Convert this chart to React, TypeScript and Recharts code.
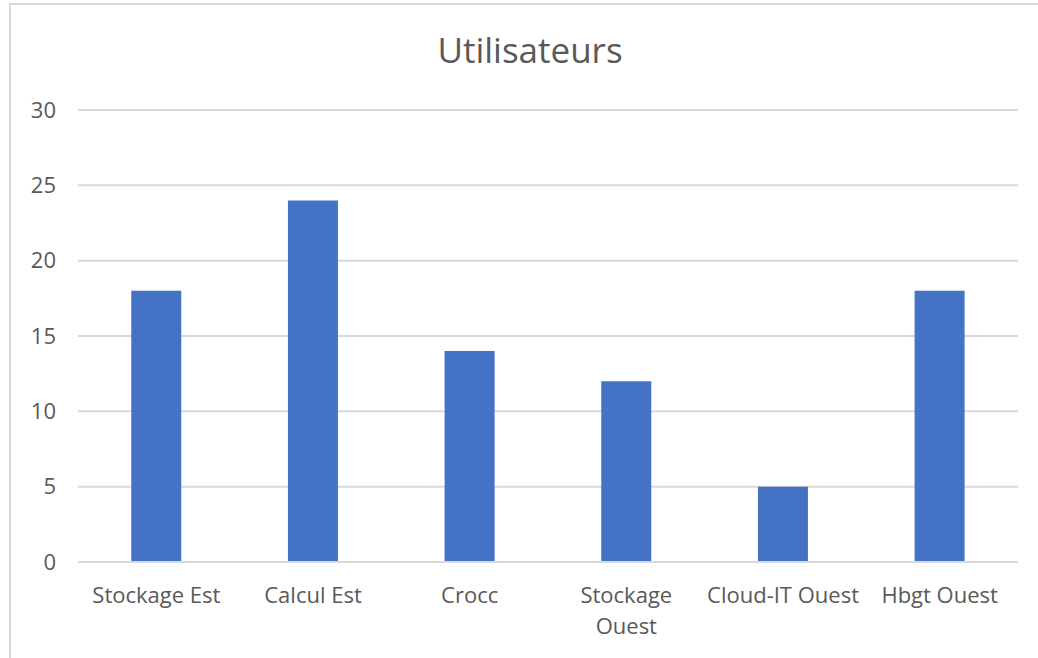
import { BarChart, Bar, XAxis, YAxis, CartesianGrid } from "recharts";

const categories = [
  "Stockage Est",
  "Calcul Est",
  "Crocc",
  "Stockage Ouest",
  "Cloud-IT Ouest",
  "Hbgt Ouest",
];
const users = [18, 24, 14, 12, 5, 18];
const yTicks = [0, 5, 10, 15, 20, 25, 30];

const data = categories.map((name, i) => ({ name, users: users[i] }));

const FONT = "'Open Sans', sans-serif";
const GREY = "#595959";

let ctx: CanvasRenderingContext2D | null = null;
function measure(s: string) {
  if (!ctx) ctx = document.createElement("canvas").getContext("2d");
  if (!ctx) return s.length * 11;
  ctx.font = `22px ${FONT}`;
  return ctx.measureText(s).width;
}

// category labels wrap like Excel when wider than the slot
function wrap(label: string, max: number) {
  const words = label.split(" ");
  const lines: string[] = [];
  let cur = "";
  for (const w of words) {
    const next = cur ? cur + " " + w : w;
    if (cur && measure(next) > max) {
      lines.push(cur);
      cur = w;
    } else cur = next;
  }
  if (cur) lines.push(cur);
  return lines;
}

function CategoryTick(props: any) {
  const { x, y, payload } = props;
  const lines = wrap(String(payload.value), 156);
  return (
    <text x={x} y={y} textAnchor="middle" fill={GREY} fontSize={22} fontFamily={FONT}>
      {lines.map((l, i) => (
        <tspan key={i} x={x} dy={i === 0 ? 16 : 31}>
          {l}
        </tspan>
      ))}
    </text>
  );
}

export default function App() {
  return (
    <div style={{ position: "absolute", left: 0, top: 0, width: 1038, height: 658, background: "#fff", overflow: "hidden" }}>
      {/* chart frame */}
      <div
        style={{
          position: "absolute",
          left: 9,
          top: 3,
          width: 1060,
          height: 680,
          border: "2px solid #d9d9d9",
        }}
      />
      <div
        style={{
          position: "absolute",
          left: 330,
          width: 400,
          top: 32,
          textAlign: "center",
          fontFamily: FONT,
          fontSize: 35,
          color: GREY,
          lineHeight: "35px",
        }}
      >
        Utilisateurs
      </div>
      <div style={{ position: "absolute", left: 0, top: 0 }}>
        <BarChart
          width={1038}
          height={658}
          data={data}
          margin={{ top: 110, right: 20, bottom: 0, left: 0 }}
          barCategoryGap="34%"
        >
          <CartesianGrid vertical={false} stroke="#d9d9d9" strokeWidth={2} />
          <XAxis
            dataKey="name"
            axisLine={{ stroke: "#d9d9d9", strokeWidth: 2 }}
            tickLine={false}
            tickSize={0}
            tickMargin={25}
            interval={0}
            height={96}
            tick={<CategoryTick />}
          />
          <YAxis
            width={78}
            domain={[0, 30]}
            ticks={yTicks}
            axisLine={false}
            tickLine={false}
            tickSize={0}
            tickMargin={22}
            tick={{ fill: GREY, fontSize: 22, fontFamily: FONT }}
          />
          <Bar dataKey="users" fill="#4472C4" isAnimationActive={false} />
        </BarChart>
      </div>
    </div>
  );
}
